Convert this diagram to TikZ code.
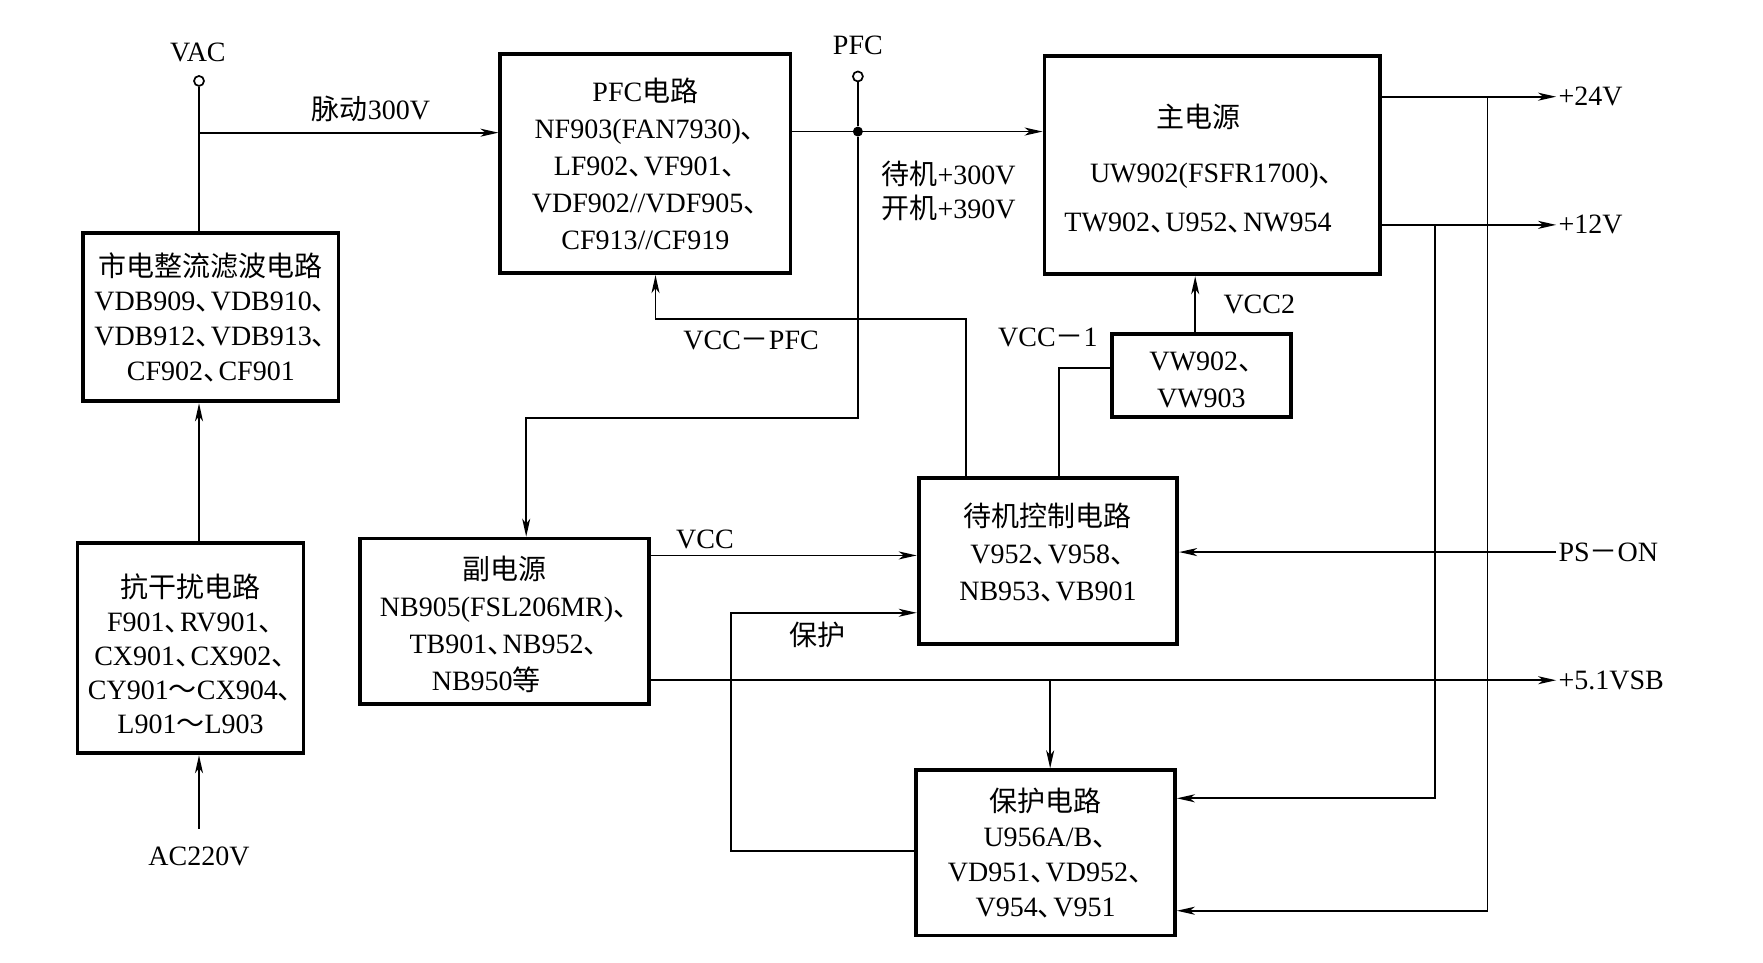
\documentclass[tikz,border=0pt]{standalone}
\usepackage{fontspec}
\setmainfont{Liberation Serif}
\newfontfamily\cjk{Noto Sans CJK SC}
\newcommand\zh[1]{{\cjk #1}}
\newcommand\dn{{\cjk 、}\kern-0.45em}
\usetikzlibrary{arrows.meta}
\begin{document}
\begin{tikzpicture}[x=0.5622pt, y=-0.5622pt,
  box/.style={draw, line width=1.9pt, align=center, inner sep=0pt, font=\fontsize{14}{18.5}\selectfont},
  sz/.style 2 args={minimum width=#1*0.5622pt, minimum height=#2*0.5622pt},
  arr/.style={-{Stealth[length=9pt,width=4pt,inset=2.5pt]}},
  ln/.style={line width=0.85pt},
  lbl/.style={font=\fontsize{14}{17}\selectfont, inner sep=1pt},
  term/.style={circle, draw, line width=0.85pt, minimum size=5pt, inner sep=0pt, fill=white},
]
\fill[white] (0,0) rectangle (1568,856);
\useasboundingbox (0,0) rectangle (1568,856);

% boxes
\node[box, sz={227}{150}, font=\fontsize{14}{17.3}\selectfont] (rect) at (187.5,282) {\zh{市电整流滤波电路}\\VDB909\dn VDB910\dn\\VDB912\dn VDB913\dn\\CF902\dn CF901};
\node[box, sz={201}{187}, font=\fontsize{14}{17}\selectfont] (anti) at (169.5,576.5) {\rule{0pt}{17pt}\zh{抗干扰电路}\\F901\dn RV901\dn\\CX901\dn CX902\dn\\CY901\zh{～}CX904\dn\\L901\zh{～}L903};
\node[box, sz={258}{195}] (pfc) at (574,145.5) {PFC\zh{电路}\\NF903(FAN7930)\dn\\LF902\dn VF901\dn\\VDF902//VDF905\dn\\CF913//CF919};
\node[box, sz={298}{194}] (main) at (1078,147) {\rule{0pt}{15pt}\zh{主电源}\kern14pt\\[9pt]UW902(FSFR1700)\dn\\[6pt]TW902\dn U952\dn NW954\kern14pt};
\node[box, sz={159}{74}] (vw) at (1068.5,334) {\rule{0pt}{14pt}VW902\dn\\VW903};
\node[box, sz={257}{147}] (sub) at (448.5,552.5) {\rule{0pt}{15pt}\zh{副电源}\\NB905(FSL206MR)\dn\\TB901\dn NB952\dn\\NB950\zh{等}\kern18pt};
\node[box, sz={230}{148}] (sb) at (932,499) {\zh{待机控制电路}\\V952\dn V958\dn\\NB953\dn VB901\\[-9.5pt]\mbox{}};
\node[box, sz={230}{147}, font=\fontsize{14}{17.5}\selectfont] (prot) at (930,758.5) {\zh{保护电路}\\U956A/B\dn\\VD951\dn VD952\dn\\V954\dn V951};

% terminals and labels
\node[lbl] (vacl) at (176,47) {VAC};
\node[term] (vac) at (177,72) {};
\coordinate (vacj) at (177,118);
\node[lbl] (p300) at (330,97) {\zh{脉动}300V};
\node[lbl] (pfcl) at (763,40) {PFC};
\node[term] (pfcc) at (763,68) {};
\node[circle, fill, inner sep=0pt, minimum size=5pt] (dot) at (763,117) {};
\node[lbl, anchor=west, align=left] (sv) at (782,170) {\zh{待机}+300V\\\zh{开机}+390V};
\node[lbl] (vccpfc) at (668,303) {VCC\zh{－}PFC};
\node[lbl] (vcc1) at (932,300) {VCC\zh{－}1};
\node[lbl] (vcc2) at (1120,271) {VCC2};
\node[lbl] (vccl) at (627,480) {VCC};
\node[lbl] (bhl) at (727,565) {\zh{保护}};
\node[lbl] (ac) at (177,762) {AC220V};
\node[lbl, anchor=west] (v24) at (1384,86) {+24V};
\node[lbl, anchor=west] (v12) at (1384,200) {+12V};
\node[lbl, anchor=west] (pson) at (1384,491) {PS\zh{－}ON};
\node[lbl, anchor=west] (v51) at (1384,605) {+5.1VSB};

% helper coordinates
\coordinate (c1) at (468,372);
\coordinate (c2) at (859,284);
\coordinate (c3) at (583,284);
\coordinate (c4) at (942,327);
\coordinate (c5) at (1063,297);
\coordinate (c6) at (700,494);
\coordinate (c7) at (650,757);
\coordinate (c8) at (650,545);
\coordinate (c9) at (934,605);
\coordinate (c10) at (1323,810);
\coordinate (c11) at (1276,710);

% connectors
\draw[ln,arr,shorten <=8pt] (vac |- ac.north) -- (vac |- anti.south);
\draw[ln,arr] (vac |- anti.north) -- (vac |- rect.south);
\draw[ln] (vac |- rect.north) -- (vac.south);
\draw[ln,arr] (vacj) -- (vacj -| pfc.west);
\draw[ln] (pfcc.south) -- (dot);
\draw[ln,arr] (dot -| pfc.east) -- (dot -| main.west);
\draw[ln,arr] (dot) |- (c1) -- (c1 |- sub.north);
\draw[ln,arr] (c2 |- sb.north) -- (c2) -- (c3) -- (c3 |- pfc.south);
\draw[ln] (c4 -| vw.west) -- (c4) -- (c4 |- sb.north);
\draw[ln,arr] (c5 |- vw.north) -- (c5 |- main.south);
\draw[ln,arr] (c6 -| sub.east) -- (c6 -| sb.west);
\draw[ln,arr] (c7 -| prot.west) -- (c7) -- (c8) -- (c8 -| sb.west);
\draw[ln,arr] (pson.west) -- (pson.west -| sb.east);
\draw[ln,arr] (c9 -| sub.east) -- (v51.west);
\draw[ln,arr] (c9) -- (c9 |- prot.north);
\draw[ln,arr] (v24.west -| main.east) -- (v24.west);
\draw[ln,arr] (c10 |- v24.west) -- (c10) -- (c10 -| prot.east);
\draw[ln,arr] (v12.west -| main.east) -- (v12.west);
\draw[ln,arr] (c11 |- v12.west) -- (c11) -- (c11 -| prot.east);
\end{tikzpicture}
\end{document}
